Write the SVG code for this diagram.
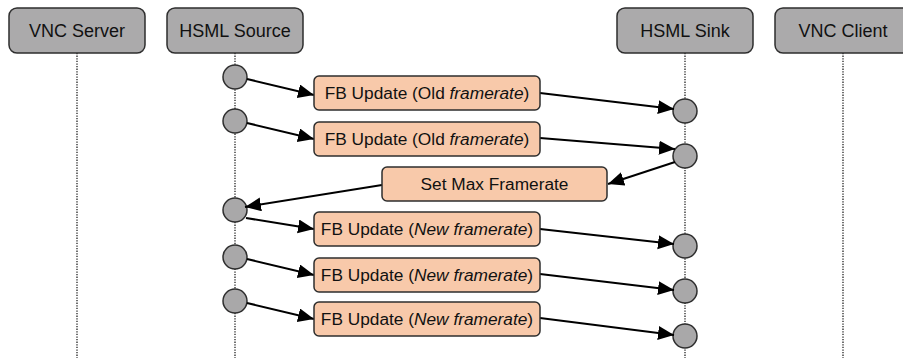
<svg xmlns="http://www.w3.org/2000/svg" width="903" height="358" viewBox="0 0 903 358">
<defs>
<style>
.hdr{fill:#abaaab;stroke:#2e2e2e;stroke-width:1.5}
.hdrt{font-family:"Liberation Sans",Arial,sans-serif;font-size:18px;fill:#111;text-anchor:middle}
.life{stroke:#222;stroke-width:1.3;stroke-dasharray:1.3,1.3;fill:none}
.dot{fill:#a9a8a9;stroke:#2e2e2e;stroke-width:1.5}
.msg{fill:#f8c9aa;stroke:#2e2e2e;stroke-width:1.5}
.msgt{font-family:"Liberation Sans",Arial,sans-serif;font-size:17.3px;fill:#111;text-anchor:middle}
.con{stroke:#000;stroke-width:2;fill:none;marker-end:url(#arr)}
</style>
<marker id="arr" markerUnits="userSpaceOnUse" markerWidth="18" markerHeight="16" refX="16" refY="7" orient="auto">
<path d="M0,0 L16,7 L0,14 z" fill="#000"/>
</marker>
</defs>
<rect width="903" height="358" fill="#fff"/>
<g id="lifelines">
<line class="life" x1="77" y1="53" x2="77" y2="358"/>
<line class="life" x1="235" y1="53" x2="235" y2="358"/>
<line class="life" x1="685" y1="53" x2="685" y2="358"/>
<line class="life" x1="843" y1="53" x2="843" y2="358"/>
</g>
<g id="vnc-server"><rect class="hdr" x="9" y="8" width="136" height="45" rx="8"/><text class="hdrt" x="77" y="37">VNC Server</text></g>
<g id="hsml-source"><rect class="hdr" x="167" y="8" width="136" height="45" rx="8"/><text class="hdrt" x="235" y="37">HSML Source</text></g>
<g id="hsml-sink"><rect class="hdr" x="617" y="8" width="136" height="45" rx="8"/><text class="hdrt" x="685" y="37">HSML Sink</text></g>
<g id="vnc-client"><rect class="hdr" x="775" y="8" width="136" height="45" rx="8"/><text class="hdrt" x="843" y="37">VNC Client</text></g>
<g id="src-1"><circle class="dot" cx="235" cy="77" r="12"/></g>
<g id="src-2"><circle class="dot" cx="235" cy="121" r="12"/></g>
<g id="src-3"><circle class="dot" cx="235" cy="210" r="12"/></g>
<g id="src-4"><circle class="dot" cx="235" cy="257" r="12"/></g>
<g id="src-5"><circle class="dot" cx="235" cy="301" r="12"/></g>
<g id="sink-1"><circle class="dot" cx="685" cy="111" r="12"/></g>
<g id="sink-2"><circle class="dot" cx="685" cy="156" r="12"/></g>
<g id="sink-3"><circle class="dot" cx="685" cy="246" r="12"/></g>
<g id="sink-4"><circle class="dot" cx="685" cy="291" r="12"/></g>
<g id="sink-5"><circle class="dot" cx="685" cy="336" r="12"/></g>
<g id="connectors">
<line class="con" x1="247" y1="79" x2="314" y2="95"/>
<line class="con" x1="540" y1="93" x2="674" y2="109"/>
<line class="con" x1="247" y1="123" x2="314" y2="139"/>
<line class="con" x1="540" y1="138" x2="675" y2="149"/>
<line class="con" x1="675" y1="162" x2="608" y2="184"/>
<line class="con" x1="382" y1="185" x2="245" y2="207"/>
<line class="con" x1="246" y1="218" x2="314" y2="229"/>
<line class="con" x1="540" y1="229" x2="674" y2="244"/>
<line class="con" x1="247" y1="259" x2="314" y2="275"/>
<line class="con" x1="540" y1="274" x2="674" y2="290"/>
<line class="con" x1="247" y1="303" x2="314" y2="319"/>
<line class="con" x1="540" y1="318" x2="674" y2="335"/>
</g>
<g id="msg-1"><rect class="msg" x="314" y="76" width="226" height="34" rx="5"/><text class="msgt" x="427" y="99">FB Update (Old <tspan font-style="italic">framerate</tspan>)</text></g>
<g id="msg-2"><rect class="msg" x="314" y="122" width="226" height="34" rx="5"/><text class="msgt" x="427" y="145">FB Update (Old <tspan font-style="italic">framerate</tspan>)</text></g>
<g id="msg-set"><rect class="msg" x="382" y="167" width="225" height="34" rx="5"/><text class="msgt" x="494.5" y="190">Set Max Framerate</text></g>
<g id="msg-3"><rect class="msg" x="314" y="212" width="226" height="34" rx="5"/><text class="msgt" x="427" y="235">FB Update (<tspan font-style="italic">New framerate</tspan>)</text></g>
<g id="msg-4"><rect class="msg" x="314" y="258" width="226" height="34" rx="5"/><text class="msgt" x="427" y="281">FB Update (<tspan font-style="italic">New framerate</tspan>)</text></g>
<g id="msg-5"><rect class="msg" x="314" y="302" width="226" height="34" rx="5"/><text class="msgt" x="427" y="325">FB Update (<tspan font-style="italic">New framerate</tspan>)</text></g>
</svg>
